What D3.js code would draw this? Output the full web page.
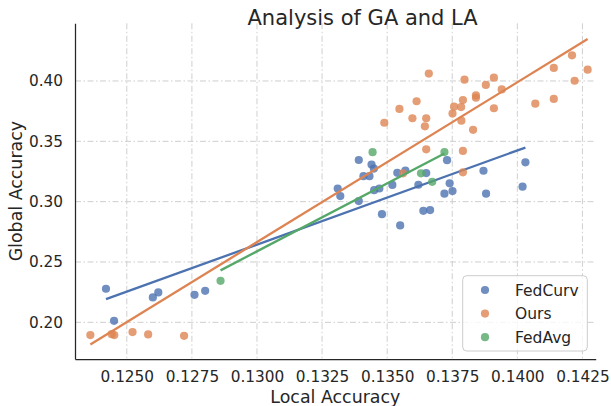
<!DOCTYPE html>
<html>
<head>
<meta charset="utf-8">
<script src="https://cdn.jsdelivr.net/npm/d3@7"></script>
<style>
  body { margin: 0; background: #fff; }
  text { font-family: "DejaVu Sans", sans-serif; fill: #262626; }
</style>
</head>
<body>
<div class="gaChart"></div>
<script>
let width = 611
let height = 406

let seriesNames = ["FedCurv", "Ours", "FedAvg"]
let seriesColors = ["#4C72B0", "#DD8452", "#55A868"]

let fedcurvLA = [0.12420, 0.12451, 0.12600, 0.12621, 0.12760, 0.12801, 0.13310, 0.13320, 0.13391, 0.13391,
  0.13409, 0.13432, 0.13440, 0.13449, 0.13450, 0.13470, 0.13480, 0.13520, 0.13539, 0.13550,
  0.13570, 0.13620, 0.13639, 0.13650, 0.13665, 0.13720, 0.13730, 0.13740, 0.13751, 0.13870,
  0.13880, 0.14031, 0.14020]
let fedcurvGA = [0.2278, 0.2012, 0.2206, 0.2248, 0.2228, 0.2261, 0.3109, 0.3046, 0.3345, 0.3005,
  0.3211, 0.3211, 0.3308, 0.3274, 0.3095, 0.3109, 0.2896, 0.3139, 0.3239, 0.2803,
  0.3258, 0.3140, 0.2924, 0.3237, 0.2930, 0.3066, 0.3344, 0.3152, 0.3088, 0.3256,
  0.3066, 0.3326, 0.3124]

let oursLA = [0.12360, 0.12442, 0.12452, 0.12522, 0.12582, 0.12720, 0.13489, 0.13547, 0.13561, 0.13597,
  0.13613, 0.13645, 0.13650, 0.13650, 0.13660, 0.13751, 0.13757, 0.13784, 0.13785, 0.13791,
  0.13791, 0.13791, 0.13797, 0.13830, 0.13841, 0.13841, 0.13879, 0.13910, 0.13910, 0.13940,
  0.14069, 0.14140, 0.14140, 0.14210, 0.14220, 0.14270]
let oursGA = [0.1894, 0.1902, 0.1894, 0.1919, 0.1900, 0.1888, 0.3654, 0.3768, 0.3235, 0.3691,
  0.3832, 0.3624, 0.3691, 0.3434, 0.4061, 0.3730, 0.3787, 0.3784, 0.3671, 0.3842,
  0.3420, 0.3243, 0.4011, 0.3595, 0.3880, 0.3861, 0.3967, 0.4027, 0.3774, 0.3930,
  0.3812, 0.3851, 0.4108, 0.4213, 0.4002, 0.4094]

let fedavgLA = [0.12860, 0.13444, 0.13630, 0.13673, 0.13720]
let fedavgGA = [0.2344, 0.3410, 0.3235, 0.3164, 0.3411]

let xTicks = [0.1250, 0.1275, 0.1300, 0.1325, 0.1350, 0.1375, 0.1400, 0.1425]
let yTicks = [0.20, 0.25, 0.30, 0.35, 0.40]

let series = [
  {name: seriesNames[0], color: seriesColors[0], la: fedcurvLA, ga: fedcurvGA},
  {name: seriesNames[1], color: seriesColors[1], la: oursLA, ga: oursGA},
  {name: seriesNames[2], color: seriesColors[2], la: fedavgLA, ga: fedavgGA}
]

// least squares fit, drawn over the data range like regplot
function fitLine(xs, ys) {
  let mx = d3.mean(xs), my = d3.mean(ys)
  let sxy = d3.sum(xs, (x, i) => (x - mx) * (ys[i] - my))
  let sxx = d3.sum(xs, x => (x - mx) * (x - mx))
  let b = sxy / sxx
  let [x0, x1] = d3.extent(xs)
  return [[x0, my + b * (x0 - mx)], [x1, my + b * (x1 - mx)]]
}

const svg = d3.select(".gaChart")
  .append("svg")
  .attr("width", width)
  .attr("height", height)

const x = d3.scaleLinear()
  .domain([0.12301, 0.14301])
  .range([75, 595.7])
const y = d3.scaleLinear()
  .domain([0.1696, 0.4478])
  .range([359, 23.3])

// grid
svg.append("g")
  .selectAll("line")
  .data(xTicks)
  .enter()
  .append("line")
  .attr("x1", d => x(d)).attr("x2", d => x(d))
  .attr("y1", y.range()[1]).attr("y2", y.range()[0])
  .style("stroke", "#cfcfcf")
  .style("stroke-width", 1)
  .style("stroke-dasharray", "6,2.5,1.5,2.5")
svg.append("g")
  .selectAll("line")
  .data(yTicks)
  .enter()
  .append("line")
  .attr("x1", x.range()[0]).attr("x2", x.range()[1])
  .attr("y1", d => y(d)).attr("y2", d => y(d))
  .style("stroke", "#cfcfcf")
  .style("stroke-width", 1)
  .style("stroke-dasharray", "6,2.5,1.5,2.5")

// axes
const xAxis = svg.append("g")
  .attr("transform", `translate(0,${y.range()[0]})`)
  .call(d3.axisBottom(x).tickValues(xTicks).tickFormat(d3.format(".4f")).tickSize(0).tickPadding(12))
const yAxis = svg.append("g")
  .attr("transform", `translate(${x.range()[0]},0)`)
  .call(d3.axisLeft(y).tickValues(yTicks).tickFormat(d3.format(".2f")).tickSize(0).tickPadding(12))

svg.selectAll(".domain").style("stroke", "#262626").style("stroke-width", 1.25)
svg.selectAll(".tick text")
  .style("font-size", "15.3px")
  .style("font-family", "DejaVu Sans, sans-serif")
  .style("fill", "#262626")

// points and fit lines
series.forEach(s => {
  svg.append("g")
    .selectAll("circle")
    .data(s.la.map((v, i) => [v, s.ga[i]]))
    .enter()
    .append("circle")
    .attr("cx", d => x(d[0]))
    .attr("cy", d => y(d[1]))
    .attr("r", 4.1)
    .style("fill", s.color)
    .style("opacity", 0.8)
  svg.append("path")
    .datum(fitLine(s.la, s.ga))
    .attr("d", d3.line().x(d => x(d[0])).y(d => y(d[1])))
    .style("fill", "none")
    .style("stroke", s.color)
    .style("stroke-width", 2.3)
})

// labels
svg.append("text")
  .attr("x", 247.5)
  .attr("y", 25)
  .style("font-size", "21px")
  .text("Analysis of GA and LA")
svg.append("text")
  .attr("x", (x.range()[0] + x.range()[1]) / 2)
  .attr("y", 403)
  .attr("text-anchor", "middle")
  .style("font-size", "17.4px")
  .text("Local Accuracy")
svg.append("text")
  .attr("transform", `translate(22,${(y.range()[0] + y.range()[1]) / 2}) rotate(-90)`)
  .attr("text-anchor", "middle")
  .style("font-size", "17.4px")
  .text("Global Accuracy")

// legend
const legend = svg.append("g").attr("transform", "translate(462.7,275.7)")
legend.append("rect")
  .attr("width", 124.6)
  .attr("height", 75.3)
  .attr("rx", 4)
  .style("fill", "white")
  .style("fill-opacity", 0.8)
  .style("stroke", "#cccccc")
legend.selectAll("circle")
  .data(series)
  .enter()
  .append("circle")
  .attr("cx", 22.3)
  .attr("cy", (d, i) => 14.3 + i * 23.6)
  .attr("r", 4.1)
  .style("fill", d => d.color)
  .style("opacity", 0.8)
legend.selectAll("text")
  .data(series)
  .enter()
  .append("text")
  .attr("x", 52.3)
  .attr("y", (d, i) => 14.3 + i * 23.6)
  .attr("dy", "0.36em")
  .style("font-size", "15.5px")
  .text(d => d.name)
</script>
</body>
</html>
